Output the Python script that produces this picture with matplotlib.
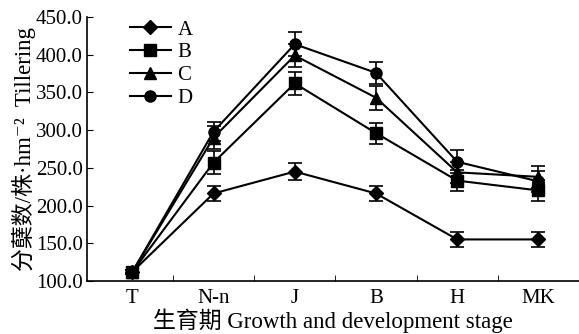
import matplotlib
matplotlib.use("Agg")
import matplotlib.pyplot as plt

plt.rcParams['font.family'] = ['Liberation Serif', 'Noto Sans CJK SC', 'DejaVu Serif']
plt.rcParams['font.size'] = 15

# 生育期
stages = ["T", "N-n", "J", "B", "H", "MK"]

# 分蘖数 各处理均值与误差
A = [112, 216, 245, 216, 155, 155]
B = [112, 257, 362, 296, 233, 220]
C = [112, 290, 399, 343, 244, 238]
D = [112, 298, 414, 376, 258, 232]
A_err = [3, 10, 11, 10, 10, 10]
B_err = [3, 15, 15, 14, 14, 14]
C_err = [3, 15, 15, 16, 14, 15]
D_err = [3, 13, 16, 15, 15, 14]

series = [("A", A, A_err, "D"), ("B", B, B_err, "s"),
          ("C", C, C_err, "^"), ("D", D, D_err, "o")]

fig = plt.figure(figsize=(5.79, 3.34), dpi=100)
ax = fig.add_axes([0.150, 0.159, 0.85, 0.790])

x = list(range(len(stages)))
for name, vals, err, m in series:
    ax.errorbar(x, vals, yerr=err, color="black", marker=m, markersize=8 if m != "D" else 7,
                linewidth=1.5, elinewidth=1.2, capsize=5, capthick=1.2, label=name)

ax.set_xlim(-0.56, 5.5)
ax.set_ylim(100, 450)
ax.set_yticks(range(100, 451, 50))
ax.set_yticklabels([f"{v:.1f}" for v in range(100, 451, 50)])
ax.set_xticks(x)
ax.set_xticklabels(stages)
ax.set_xticks([i + 0.5 for i in range(5)], minor=True)
ax.tick_params(axis="x", which="major", length=0, pad=6)
ax.tick_params(axis="x", which="minor", direction="in", length=4)
ax.tick_params(axis="y", direction="in", length=4, pad=3)

for s in ["top", "right"]:
    ax.spines[s].set_visible(False)
for s in ["left", "bottom"]:
    ax.spines[s].set_linewidth(1.2)

ax.set_xlabel("生育期 Growth and development stage", fontsize=16.5, labelpad=0)
ax.set_ylabel("分蘖数/株·hm⁻²  Tillering", fontsize=16.5, labelpad=0)

handles, labels = ax.get_legend_handles_labels()
handles = [h[0] for h in handles]
ax.legend(handles, labels, loc="upper left", bbox_to_anchor=(0.07, 1.02), frameon=False,
          handlelength=2.0, handletextpad=0.3, labelspacing=0.15, borderaxespad=0)

fig.savefig("out.png", dpi=100)
